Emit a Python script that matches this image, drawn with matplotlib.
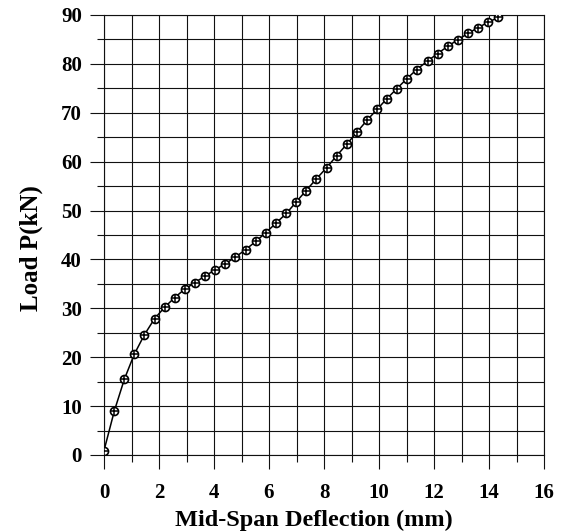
import matplotlib
matplotlib.use("Agg")
import matplotlib.pyplot as plt
from matplotlib.ticker import MultipleLocator

deflection_mm = [0.0, 0.375, 0.74, 1.10, 1.47, 1.84, 2.21, 2.57, 2.93, 3.30,
                 3.66, 4.03, 4.41, 4.78, 5.15, 5.52, 5.88, 6.25, 6.63, 6.98,
                 7.35, 7.71, 8.10, 8.46, 8.84, 9.20, 9.56, 9.93, 10.29, 10.65,
                 11.01, 11.37, 11.77, 12.13, 12.50, 12.87, 13.24, 13.60, 13.96, 14.34]
load_kN = [0.9, 9.0, 15.5, 20.6, 24.6, 27.9, 30.25, 32.2, 33.9, 35.25,
           36.55, 37.85, 39.1, 40.5, 42.0, 43.7, 45.45, 47.4, 49.4, 51.7,
           54.1, 56.4, 58.8, 61.2, 63.65, 66.05, 68.45, 70.7, 72.9, 74.95,
           76.95, 78.85, 80.6, 82.1, 83.6, 84.95, 86.25, 87.4, 88.5, 89.5]
x_ticks = [0, 2, 4, 6, 8, 10, 12, 14, 16]
y_ticks = [0, 10, 20, 30, 40, 50, 60, 70, 80, 90]

plt.rcParams['font.family'] = ['Liberation Serif', 'DejaVu Serif']
plt.rcParams['font.weight'] = 'bold'

fig = plt.figure(figsize=(5.63, 5.32), dpi=100)
ax = fig.add_axes([104/563, 1-455/532, 440/563, 440/532])
ax.set_xlim(0, 16)
ax.set_ylim(0, 90)

lc = '#111111'
for s in ax.spines.values():
    s.set_color(lc)
    s.set_linewidth(0.8)

ax.set_xticks(x_ticks)
ax.set_yticks(y_ticks)
ax.xaxis.set_minor_locator(MultipleLocator(1))
ax.yaxis.set_minor_locator(MultipleLocator(5))
ax.grid(True, which='both', color=lc, linewidth=0.8)
ax.set_axisbelow(True)

ax.tick_params(axis='x', which='major', direction='out', length=10, width=0.8,
               color=lc, labelsize=15, pad=10)
ax.tick_params(axis='x', which='minor', direction='out', length=5, width=0.8, color=lc)
ax.tick_params(axis='y', which='major', direction='out', length=10, width=0.8,
               color=lc, labelsize=15, pad=6)
ax.tick_params(axis='y', which='minor', direction='out', length=5, width=0.8, color=lc)
for lab in ax.get_xticklabels() + ax.get_yticklabels():
    lab.set_fontweight('bold')

ax.plot(deflection_mm, load_kN, color='black', linewidth=1.1, zorder=3)
ax.plot(deflection_mm, load_kN, linestyle='none', marker='o', markersize=5.8,
        markerfacecolor='white', markeredgecolor='black', markeredgewidth=1.2, zorder=4)
ax.plot(deflection_mm, load_kN, linestyle='none', marker='+', markersize=5.8,
        markeredgecolor='black', markeredgewidth=1.1, zorder=5)

ax.set_xlabel('Mid-Span Deflection (mm)', fontsize=17.5, fontweight='bold')
ax.set_ylabel('Load P(kN)', fontsize=18, fontweight='bold')
ax.xaxis.set_label_coords((314-104)/440, (455-526)/440)
ax.yaxis.set_label_coords((31-104)/440, (455-248)/440)
ax.xaxis.label.set_va('baseline')
ax.yaxis.label.set_va('center')

fig.savefig('out.png', dpi=100)
